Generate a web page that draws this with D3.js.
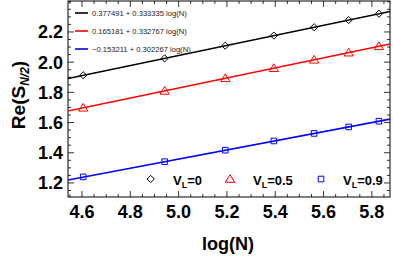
<!DOCTYPE html>
<html>
<head>
<meta charset="utf-8">
<script src="https://cdn.jsdelivr.net/npm/d3@7"></script>
<style>
  body { margin: 0; background: #fff; }
  svg { display: block; font-family: "Liberation Sans", Arial, sans-serif; }
</style>
</head>
<body>
<div id="chart"></div>
<script>
const width = 393;
const height = 268;

// log(N) for N = 100, 140, ..., 340
const logN = [4.605, 4.942, 5.193, 5.394, 5.561, 5.704, 5.829];
const s0 = [1.913, 2.025, 2.109, 2.176, 2.231, 2.279, 2.321];
const s05 = [1.698, 1.810, 1.893, 1.960, 2.016, 2.063, 2.105];
const s09 = [1.240, 1.341, 1.417, 1.478, 1.528, 1.571, 1.609];

// fit coefficients (intercept, slope) shown in the legend
const fits = [
    { a: 0.377491, b: 0.333335, label: "0.377491 + 0.333335 log(N)", color: "#000" },
    { a: 0.165181, b: 0.332767, label: "0.165181 + 0.332767 log(N)", color: "#f00" },
    { a: -0.153211, b: 0.302267, label: "\u22120.153211 + 0.302267 log(N)", color: "#00f" }
];

const seriesNames = ["V_L=0", "V_L=0.5", "V_L=0.9"];
const xTicks = [4.6, 4.8, 5.0, 5.2, 5.4, 5.6, 5.8];
const yTicks = [1.2, 1.4, 1.6, 1.8, 2.0, 2.2];

const margin = { top: 1, right: 3, bottom: 71, left: 68 };
const plot = {
    left: margin.left,
    right: width - margin.right,
    top: margin.top,
    bottom: height - margin.bottom
};

const svg = d3.select("#chart").append("svg")
    .attr("width", width)
    .attr("height", height);

const xScale = d3.scaleLinear().domain([4.542, 5.875]).range([plot.left, plot.right]);
const yScale = d3.scaleLinear().domain([1.107, 2.405]).range([plot.bottom, plot.top]);

// minor and major ticks, inward on all four sides
const xMinor = d3.range(4.55, 5.876, 0.05);
const yMinor = d3.range(1.15, 2.41, 0.05);

const frame = svg.append("g");
frame.append("rect")
    .attr("x", plot.left).attr("y", plot.top)
    .attr("width", plot.right - plot.left).attr("height", plot.bottom - plot.top)
    .attr("fill", "none").attr("stroke", "#000").attr("stroke-width", 1);

function isMajor(v, list) { return list.some(t => Math.abs(t - v) < 1e-6); }

xMinor.forEach(v => {
    const len = isMajor(v, xTicks) ? 6 : 3;
    const x = xScale(v);
    frame.append("line").attr("x1", x).attr("x2", x).attr("y1", plot.bottom).attr("y2", plot.bottom - len)
        .attr("stroke", "#000").attr("stroke-width", 0.8);
    frame.append("line").attr("x1", x).attr("x2", x).attr("y1", plot.top).attr("y2", plot.top + len)
        .attr("stroke", "#000").attr("stroke-width", 0.8);
});
yMinor.forEach(v => {
    const len = isMajor(v, yTicks) ? 6 : 3;
    const y = yScale(v);
    frame.append("line").attr("x1", plot.left).attr("x2", plot.left + len).attr("y1", y).attr("y2", y)
        .attr("stroke", "#000").attr("stroke-width", 0.8);
    frame.append("line").attr("x1", plot.right).attr("x2", plot.right - len).attr("y1", y).attr("y2", y)
        .attr("stroke", "#000").attr("stroke-width", 0.8);
});

// tick labels
svg.append("g").selectAll("text").data(xTicks).join("text")
    .attr("x", d => xScale(d))
    .attr("y", 218)
    .attr("text-anchor", "middle")
    .attr("font-size", 18).attr("font-weight", "bold")
    .text(d => d.toFixed(1));

svg.append("g").selectAll("text").data(yTicks).join("text")
    .attr("x", 63)
    .attr("y", d => yScale(d) + 6.5)
    .attr("text-anchor", "end")
    .attr("font-size", 18).attr("font-weight", "bold")
    .text(d => d.toFixed(1));

// axis titles
svg.append("text")
    .attr("x", 228).attr("y", 250)
    .attr("text-anchor", "middle")
    .attr("font-size", 18).attr("font-weight", "bold")
    .text("log(N)");

const yTitle = svg.append("text")
    .attr("transform", "translate(25,95) rotate(-90)")
    .attr("text-anchor", "middle")
    .attr("font-size", 19).attr("font-weight", "bold");
yTitle.append("tspan").text("Re(S");
yTitle.append("tspan").attr("font-size", 12).attr("dy", 4).attr("font-style", "italic").text("N/2");
yTitle.append("tspan").attr("dy", -4).text(")");

// fit lines
const xEnds = xScale.domain();
const lineGen = d3.line().x(d => xScale(d[0])).y(d => yScale(d[1]));
const clip = svg.append("clipPath").attr("id", "clip").append("rect")
    .attr("x", plot.left).attr("y", plot.top)
    .attr("width", plot.right - plot.left).attr("height", plot.bottom - plot.top);

svg.append("g").attr("clip-path", "url(#clip)")
    .selectAll("path").data(fits).join("path")
    .attr("d", f => lineGen(xEnds.map(x => [x, f.a + f.b * x])))
    .attr("fill", "none")
    .attr("stroke", f => f.color)
    .attr("stroke-width", 1.6);

// markers
const diamond = s => `M0,${-s}L${s},0L0,${s}L${-s},0Z`;
const triangle = s => `M0,${-s}L${s * 1.05},${s * 0.75}L${-s * 1.05},${s * 0.75}Z`;
const square = s => `M${-s},${-s}H${s}V${s}H${-s}Z`;

const markerSets = [
    { vals: s0, shape: diamond(3.6), color: "#000" },
    { vals: s05, shape: triangle(4.4), color: "#f00" },
    { vals: s09, shape: square(2.8), color: "#00f" }
];

markerSets.forEach(m => {
    svg.append("g").selectAll("path").data(m.vals).join("path")
        .attr("transform", (d, i) => `translate(${xScale(logN[i])},${yScale(d)})`)
        .attr("d", m.shape)
        .attr("fill", "none")
        .attr("stroke", m.color)
        .attr("stroke-width", 1);
});

// fit legend (top left)
const fitLegend = svg.append("g");
fits.forEach((f, i) => {
    const y = 13 + i * 18;
    fitLegend.append("line")
        .attr("x1", 75).attr("x2", 88).attr("y1", y).attr("y2", y)
        .attr("stroke", f.color).attr("stroke-width", 1.6);
    fitLegend.append("text")
        .attr("x", 92).attr("y", y + 3)
        .attr("font-size", 7.6).attr("fill", "#222")
        .text(f.label);
});

// series legend (bottom)
const legendItems = [
    { shape: diamond(3.6), color: "#000", mx: 150.7, tx: 173 },
    { shape: triangle(4.4), color: "#f00", mx: 230, tx: 253 },
    { shape: square(2.8), color: "#00f", mx: 321, tx: 343 }
];
legendItems.forEach((it, i) => {
    svg.append("path")
        .attr("transform", `translate(${it.mx},179)`)
        .attr("d", it.shape)
        .attr("fill", "none").attr("stroke", it.color).attr("stroke-width", 1);
    const [base, val] = seriesNames[i].split("_L");
    const t = svg.append("text")
        .attr("x", it.tx).attr("y", 185)
        .attr("font-size", 13).attr("font-weight", "bold");
    t.append("tspan").text(base);
    t.append("tspan").attr("font-size", 9).attr("dy", 3).text("L");
    t.append("tspan").attr("dy", -3).text(val);
});
</script>
</body>
</html>
